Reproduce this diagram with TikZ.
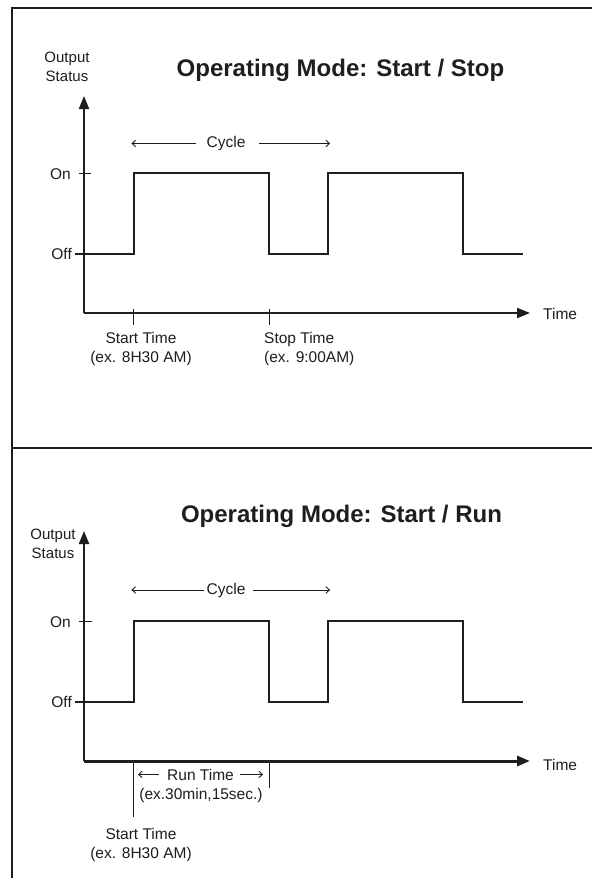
\documentclass[tikz,border=0pt]{standalone}
\usepackage{fontspec}
\setmainfont{Liberation Sans}
\usepackage{tikz}
\usetikzlibrary{arrows.meta,positioning}
\definecolor{ink}{RGB}{30,30,30}
\newcommand\lblfont{\fontsize{15.5}{18.8}\selectfont}
\newcommand\ttlfont{\fontsize{24}{28}\selectfont\bfseries}

\begin{document}
\begin{tikzpicture}[x=1pt,y=-1pt,
  every node/.style={font=\lblfont,text=ink,inner sep=0pt},
  ttl/.style={font=\ttlfont},
  frame/.style={line width=2pt,draw=ink},
  axis/.style={line width=2pt,draw=ink,-{Triangle[length=13pt,width=10pt]}},
  wave/.style={line width=2pt,draw=ink},
  tickln/.style={line width=0.9pt,draw=ink},
  dimarr/.style={line width=0.9pt,draw=ink,-{Straight Barb[length=3.5pt,width=6.5pt]}}]
\fill[white] (0,0) rectangle (592,878);
\useasboundingbox (0,0) rectangle (592,878);
\draw[frame] (11.5,878) -- (11.5,7.5) -- (592,7.5);
\draw[frame] (11.5,447.5) -- (592,447.5);

\node[ttl,anchor=base] (ttlA) at (340.5,76) {Operating Mode: Start / Stop};
\node[align=center,anchor=north,font=\fontsize{15}{18.5}\selectfont] (outA) at (67,52) {Output\\Status};
\coordinate (oA) at (84,313);
\coordinate (yA) at (84,96);
\coordinate (xA) at (530,313);
\draw[axis] (oA) -- (yA);
\draw[axis] (oA) -- (xA);
\node[anchor=base west] (timeA) at (543,319) {Time};
\node[anchor=base east] (onA) at (71,179) {On};
\node[anchor=base east] (offA) at (72,259.5) {Off};
\draw[tickln] (79,173) -- (91,173);
\draw[wave] (75,254) -- (134,254) -- (134,173) -- (269,173) -- (269,254) -- (328,254)
  -- (328,173) -- (463,173) -- (463,254) -- (523,254);
\node[anchor=base] (cycA) at (226,147.5) {Cycle};
\draw[dimarr] ([xshift=-10pt]cycA.west) -- ([xshift=-75pt]cycA.west);
\draw[dimarr] ([xshift=13.5pt]cycA.east) -- ([xshift=84.5pt]cycA.east);
\draw[tickln] (133,309) -- (133,325);
\draw[tickln] (269,309) -- (269,325);
\node[align=center,anchor=north] (startA) at (141,332) {Start Time\\(ex. 8H30 AM)};
\node[align=left,anchor=north west] (stopA) at (264,332) {Stop Time\\(ex. 9:00AM)};

\node[ttl,anchor=base] (ttlB) at (341.5,522) {Operating Mode: Start / Run};
\node[align=center,anchor=north,font=\fontsize{15}{18.5}\selectfont] (outB) at (53,529) {Output\\Status};
\coordinate (oB) at (84,761);
\coordinate (yB) at (84,531);
\coordinate (xB) at (530,761);
\draw[axis] (oB) -- (yB);
\draw[axis,line width=3pt] (oB) -- (xB);
\node[anchor=base west] (timeB) at (543,770) {Time};
\node[anchor=base east] (onB) at (71,627) {On};
\node[anchor=base east] (offB) at (72,707) {Off};
\draw[tickln] (79,621) -- (92,621);
\draw[wave] (75,702) -- (134,702) -- (134,621) -- (269,621) -- (269,702) -- (328,702)
  -- (328,621) -- (463,621) -- (463,702) -- (523,702);
\node[anchor=base] (cycB) at (226,594) {Cycle};
\draw[dimarr] ([xshift=-2.5pt]cycB.west) -- ([xshift=-75pt]cycB.west);
\draw[dimarr] ([xshift=7.5pt]cycB.east) -- ([xshift=84.5pt]cycB.east);
\draw[tickln] (133,761) -- (133,817);
\draw[tickln] (269,761) -- (269,788);
\node[anchor=base] (runB) at (200.5,780) {Run Time};
\draw[dimarr] ([xshift=-8pt]runB.west) -- ([xshift=-29pt]runB.west);
\draw[dimarr] ([xshift=6pt]runB.east) -- ([xshift=29pt]runB.east);
\node[anchor=base] (exB) at (201,799) {(ex.30min,15sec.)};
\node[align=center,anchor=north] (startB) at (141,828) {Start Time\\(ex. 8H30 AM)};
\end{tikzpicture}
\end{document}
